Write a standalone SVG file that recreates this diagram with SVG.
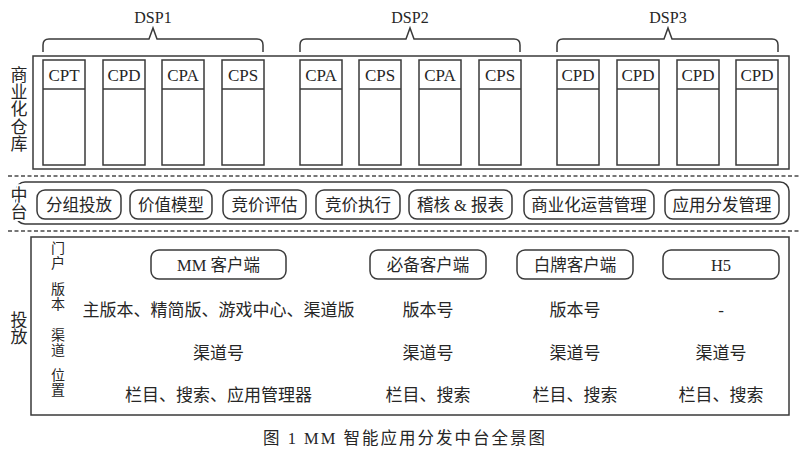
<svg xmlns="http://www.w3.org/2000/svg" width="800" height="454" viewBox="0 0 800 454">
<style>
text{font-family:"Liberation Serif","Noto Sans CJK SC",serif;fill:#262626;text-anchor:middle}
.v{writing-mode:vertical-rl;text-anchor:start}
.ln{fill:none;stroke:#3a3a3a;stroke-width:1.5}
.box{fill:#fff;stroke:#3a3a3a;stroke-width:1.5}
.dash{fill:none;stroke:#4a4a4a;stroke-width:1.5;stroke-dasharray:4 2.5}
.hd{font-size:17px}
.dsp{font-size:16px}
.pill{font-size:16.5px}
.lab{font-size:17px}
.rl{font-size:14px;letter-spacing:0.5px}
.ct{font-size:17px}
.cap{font-size:16.5px}
.halo{stroke:#fff;stroke-width:4;paint-order:stroke}
</style>
<rect width="800" height="454" fill="#fff"/>

<g id="warehouse">
<rect class="box" x="33" y="56" width="756" height="113"/>
<text class="lab v" x="17" y="66" style="letter-spacing:0.2px">商业化仓库</text>
</g>

<g id="dsp1">
<path class="ln" d="M43,52 V45 Q43,39 49,39 H149 L153,28 L157,39 H257 Q263,39 263,45 V52"/>
<text class="dsp" x="153" y="23">DSP1</text>
<g id="dsp1-cpt"><rect class="box" x="43" y="60" width="42" height="105"/><line class="ln" x1="43" y1="89" x2="85" y2="89"/><text class="hd" x="64" y="81">CPT</text></g>
<g id="dsp1-cpd"><rect class="box" x="103" y="60" width="42" height="105"/><line class="ln" x1="103" y1="89" x2="145" y2="89"/><text class="hd" x="124" y="81">CPD</text></g>
<g id="dsp1-cpa"><rect class="box" x="162" y="60" width="42" height="105"/><line class="ln" x1="162" y1="89" x2="204" y2="89"/><text class="hd" x="183" y="81">CPA</text></g>
<g id="dsp1-cps"><rect class="box" x="222" y="60" width="42" height="105"/><line class="ln" x1="222" y1="89" x2="264" y2="89"/><text class="hd" x="243" y="81">CPS</text></g>
</g>

<g id="dsp2">
<path class="ln" d="M300,52 V45 Q300,39 306,39 H406 L410,28 L414,39 H514 Q520,39 520,45 V52"/>
<text class="dsp" x="410" y="23">DSP2</text>
<g id="dsp2-cpa1"><rect class="box" x="300" y="60" width="42" height="105"/><line class="ln" x1="300" y1="89" x2="342" y2="89"/><text class="hd" x="321" y="81">CPA</text></g>
<g id="dsp2-cps1"><rect class="box" x="359" y="60" width="42" height="105"/><line class="ln" x1="359" y1="89" x2="401" y2="89"/><text class="hd" x="380" y="81">CPS</text></g>
<g id="dsp2-cpa2"><rect class="box" x="419" y="60" width="42" height="105"/><line class="ln" x1="419" y1="89" x2="461" y2="89"/><text class="hd" x="440" y="81">CPA</text></g>
<g id="dsp2-cps2"><rect class="box" x="479" y="60" width="42" height="105"/><line class="ln" x1="479" y1="89" x2="521" y2="89"/><text class="hd" x="500" y="81">CPS</text></g>
</g>

<g id="dsp3">
<path class="ln" d="M557,52 V45 Q557,39 563,39 H664 L668,28 L672,39 H772 Q778,39 778,45 V52"/>
<text class="dsp" x="668" y="23">DSP3</text>
<g id="dsp3-cpd1"><rect class="box" x="557" y="60" width="42" height="105"/><line class="ln" x1="557" y1="89" x2="599" y2="89"/><text class="hd" x="578" y="81">CPD</text></g>
<g id="dsp3-cpd2"><rect class="box" x="617" y="60" width="42" height="105"/><line class="ln" x1="617" y1="89" x2="659" y2="89"/><text class="hd" x="638" y="81">CPD</text></g>
<g id="dsp3-cpd3"><rect class="box" x="677" y="60" width="42" height="105"/><line class="ln" x1="677" y1="89" x2="719" y2="89"/><text class="hd" x="698" y="81">CPD</text></g>
<g id="dsp3-cpd4"><rect class="box" x="736" y="60" width="42" height="105"/><line class="ln" x1="736" y1="89" x2="778" y2="89"/><text class="hd" x="757" y="81">CPD</text></g>
</g>

<g id="separators">
<line class="dash" x1="8" y1="176" x2="800" y2="176"/>
<line class="dash" x1="8" y1="231" x2="800" y2="231"/>
</g>

<g id="middle">
<rect class="box" x="16" y="182" width="773" height="42" rx="9"/>
<text class="lab v halo" x="17" y="186">中台</text>
<g id="m1"><rect class="box" x="37" y="190" width="84" height="29" rx="8"/><text class="pill" x="79" y="211">分组投放</text></g>
<g id="m2"><rect class="box" x="130" y="190" width="82" height="29" rx="8"/><text class="pill" x="171" y="211">价值模型</text></g>
<g id="m3"><rect class="box" x="223" y="190" width="83" height="29" rx="8"/><text class="pill" x="264.5" y="211">竞价评估</text></g>
<g id="m4"><rect class="box" x="316" y="190" width="84" height="29" rx="8"/><text class="pill" x="358" y="211">竞价执行</text></g>
<g id="m5"><rect class="box" x="409" y="190" width="103" height="29" rx="8"/><text class="pill" x="460.5" y="211">稽核 &amp; 报表</text></g>
<g id="m6"><rect class="box" x="524" y="190" width="130" height="29" rx="8"/><text class="pill" x="589" y="211">商业化运营管理</text></g>
<g id="m7"><rect class="box" x="665" y="190" width="114" height="29" rx="8"/><text class="pill" x="722" y="211">应用分发管理</text></g>
</g>

<g id="delivery">
<rect class="box" x="31" y="237" width="758" height="178"/>
<text class="lab v" x="17" y="311">投放</text>
<text class="rl v" x="56.5" y="241">门户</text>
<text class="rl v" x="56.5" y="282">版本</text>
<text class="rl v" x="56.5" y="328">渠道</text>
<text class="rl v" x="56.5" y="368">位置</text>

<g id="p1"><rect class="box" x="151" y="250" width="135" height="29" rx="8"/><text class="pill" x="218.5" y="271">MM 客户端</text></g>
<g id="p2"><rect class="box" x="370" y="250" width="116" height="29" rx="8"/><text class="pill" x="428" y="271">必备客户端</text></g>
<g id="p3"><rect class="box" x="517" y="250" width="116" height="29" rx="8"/><text class="pill" x="575" y="271">白牌客户端</text></g>
<g id="p4"><rect class="box" x="663" y="250" width="116" height="29" rx="8"/><text class="pill" x="721" y="271">H5</text></g>

<text class="ct" x="218.5" y="316">主版本、精简版、游戏中心、渠道版</text>
<text class="ct" x="428" y="316">版本号</text>
<text class="ct" x="575" y="316">版本号</text>
<text class="ct" x="721" y="316">-</text>

<text class="ct" x="218.5" y="359">渠道号</text>
<text class="ct" x="428" y="359">渠道号</text>
<text class="ct" x="575" y="359">渠道号</text>
<text class="ct" x="721" y="359">渠道号</text>

<text class="ct" x="218.5" y="401">栏目、搜索、应用管理器</text>
<text class="ct" x="428" y="401">栏目、搜索</text>
<text class="ct" x="575" y="401">栏目、搜索</text>
<text class="ct" x="721" y="401">栏目、搜索</text>
</g>

<text class="cap" x="405" y="444" style="letter-spacing:2px">图 1  MM 智能应用分发中台全景图</text>
</svg>
